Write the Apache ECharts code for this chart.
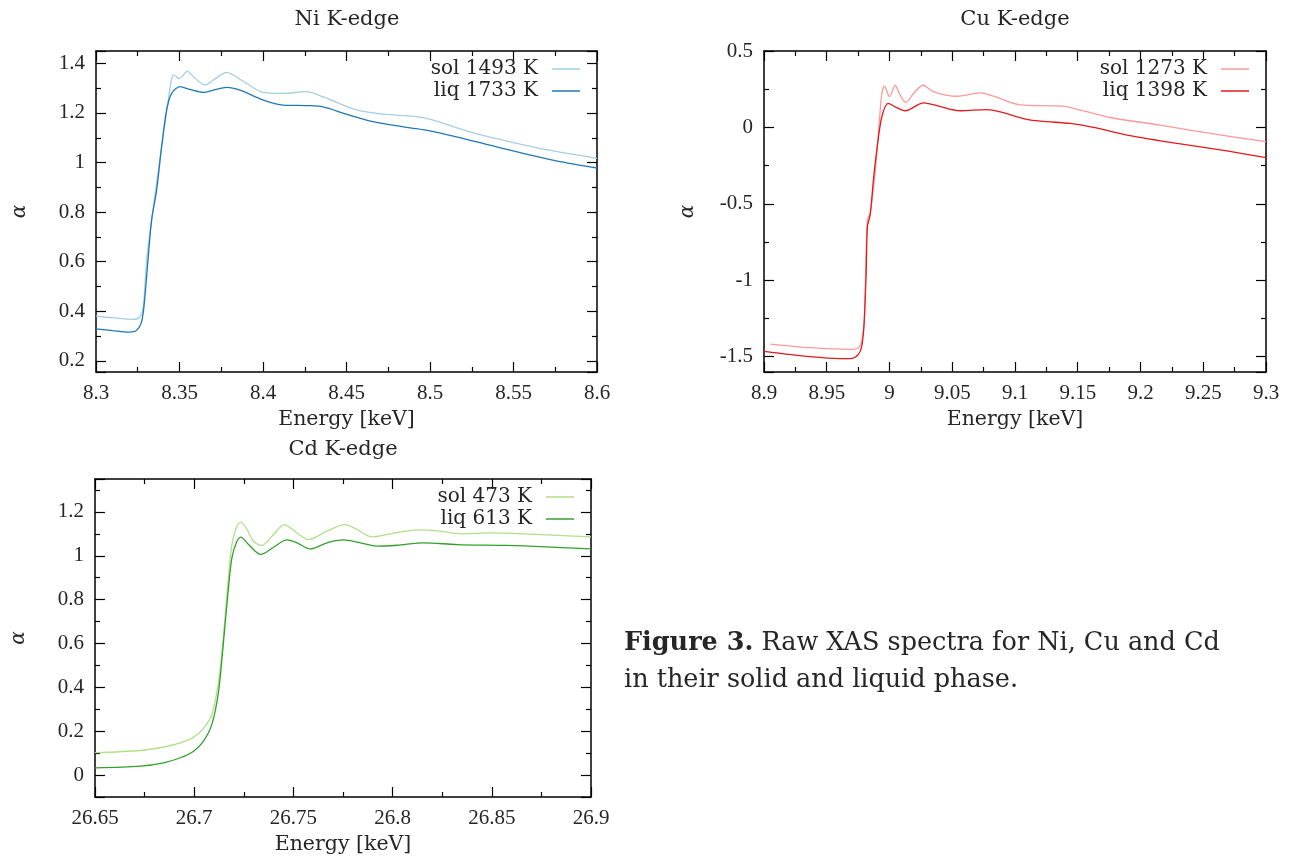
<!DOCTYPE html>
<html>
<head>
<meta charset="utf-8">
<script src="https://cdn.jsdelivr.net/npm/echarts@6/dist/echarts.min.js"></script>
<style>html,body{margin:0;padding:0;background:#fff}#c{width:1300px;height:860px}</style>
</head>
<body>
<div id="c"></div>
<script>
// ---- Data (energy in keV, absorption alpha) ----
const niSolE = [8.300,8.311,8.3223,8.3263,8.3283,8.3303,8.3333,8.3393,8.3433,8.3453,8.3467,8.3499,8.3519,8.3547,8.3583,8.3653,8.3703,8.3782,8.3822,8.3902,8.4002,8.4121,8.4261,8.4360,8.4560,8.4719,8.4919,8.5019,8.5218,8.5418,8.5657,8.600];
const niSolA = [0.380,0.373,0.367,0.378,0.418,0.606,0.768,1.064,1.252,1.339,1.353,1.339,1.349,1.369,1.346,1.313,1.333,1.364,1.353,1.319,1.283,1.279,1.286,1.265,1.212,1.195,1.185,1.171,1.128,1.093,1.057,1.017];
const niLiqE = [8.300,8.310,8.320,8.324,8.327,8.3287,8.3313,8.3333,8.3363,8.3393,8.3423,8.3453,8.3503,8.3563,8.3643,8.3703,8.3782,8.3862,8.4002,8.4121,8.4261,8.4360,8.4500,8.4660,8.4859,8.4999,8.5158,8.5358,8.5557,8.5757,8.600];
const niLiqA = [0.329,0.322,0.316,0.321,0.351,0.418,0.620,0.768,0.889,1.064,1.212,1.279,1.306,1.295,1.283,1.292,1.303,1.292,1.252,1.232,1.230,1.225,1.195,1.165,1.142,1.128,1.104,1.070,1.037,1.007,0.978];

const cuSolE = [8.905,8.9367,8.9686,8.9752,8.9779,8.9798,8.9824,8.9846,8.9885,8.9920,8.9939,8.9960,9.0000,9.0045,9.0085,9.0130,9.0191,9.0266,9.0351,9.0537,9.0723,9.0829,9.1042,9.1307,9.1414,9.1759,9.2158,9.2557,9.300];
const cuSolA = [-1.417,-1.441,-1.452,-1.441,-1.398,-1.278,-0.604,-0.561,-0.300,0.048,0.222,0.270,0.200,0.276,0.211,0.163,0.222,0.276,0.233,0.204,0.226,0.204,0.148,0.141,0.135,0.065,0.015,-0.039,-0.093];
const cuLiqE = [8.900,8.9367,8.9606,8.9699,8.9752,8.9779,8.9798,8.9814,8.9824,8.9846,8.9872,8.9899,8.9939,8.9991,9.0045,9.0125,9.0271,9.0377,9.0564,9.0776,9.0882,9.1095,9.1228,9.1440,9.1626,9.1892,9.2291,9.2689,9.300];
const cuLiqA = [-1.465,-1.500,-1.513,-1.511,-1.485,-1.430,-1.278,-0.952,-0.648,-0.572,-0.343,-0.148,0.070,0.157,0.135,0.109,0.161,0.143,0.109,0.117,0.102,0.052,0.039,0.026,0.000,-0.050,-0.104,-0.154,-0.197];

const cdSolE = [26.65,26.6728,26.6846,26.6930,26.6997,26.7047,26.7089,26.7123,26.7148,26.7168,26.7190,26.7215,26.7235,26.7266,26.7299,26.7341,26.7392,26.7454,26.7518,26.7577,26.7669,26.7761,26.7820,26.7896,26.7988,26.8123,26.8240,26.8341,26.8492,26.8660,26.90];
const cdSolA = [0.102,0.112,0.128,0.147,0.173,0.213,0.276,0.428,0.641,0.854,1.051,1.135,1.153,1.120,1.066,1.047,1.089,1.142,1.104,1.074,1.112,1.142,1.120,1.086,1.100,1.118,1.112,1.100,1.104,1.100,1.086];
const cdLiqE = [26.65,26.6728,26.6846,26.6930,26.6997,26.7047,26.7089,26.7123,26.7148,26.7168,26.7190,26.7215,26.7235,26.7274,26.7336,26.7400,26.7467,26.7518,26.7585,26.7669,26.7753,26.7837,26.7921,26.8022,26.8156,26.8324,26.8576,26.8744,26.90];
const cdLiqA = [0.033,0.041,0.056,0.079,0.109,0.155,0.231,0.383,0.611,0.808,0.990,1.066,1.085,1.051,1.006,1.039,1.072,1.059,1.031,1.059,1.072,1.059,1.044,1.048,1.059,1.051,1.047,1.042,1.031];

const panelTitles = ['Ni K-edge', 'Cu K-edge', 'Cd K-edge'];
const seriesNames = [['sol 1493 K','liq 1733 K'],['sol 1273 K','liq 1398 K'],['sol 473 K','liq 613 K']];
const xName = 'Energy [keV]';
const yName = 'α';
const captionBold = 'Figure 3.';
const captionLine1 = ' Raw XAS spectra for Ni, Cu and Cd';
const captionLine2 = 'in their solid and liquid phase.';

// ---- Layout / style ----
const NUMFONT = '"Liberation Serif", serif';
const WFONT = '"DejaVu Serif", serif';
const TXT = '#262626';
const grids = [
  {left: 96, top: 51, width: 501, height: 321},
  {left: 764, top: 51, width: 502, height: 321},
  {left: 95, top: 479, width: 496, height: 318}
];
const xr = [[8.3, 8.6], [8.9, 9.3], [26.65, 26.9]];
const yr = [[0.155, 1.45, 0.2], [-1.6, 0.5, 0.5], [-0.1, 1.35, 0.2]];
const colors = [['#a6cee3','#1f78b4'],['#fb9a99','#e31a1c'],['#b2df8a','#33a02c']];
const dataSets = [[[niSolE,niSolA],[niLiqE,niLiqA]],[[cuSolE,cuSolA],[cuLiqE,cuLiqA]],[[cdSolE,cdSolA],[cdLiqE,cdLiqA]]];
const zip = (e, a) => e.map((v, i) => [v, a[i]]);

const lineStyleAx = {color: '#000', width: 1.5};
const xAxes = [], yAxes = [], series = [], legends = [], gridOpts = [];
grids.forEach((g, i) => {
  gridOpts.push(Object.assign({show: false, outerBoundsMode: 'none', containLabel: false}, g));
  const xBase = {gridIndex: i, type: 'value', min: xr[i][0], max: xr[i][1], interval: 0.05,
    axisLine: {show: true, onZero: false, lineStyle: lineStyleAx},
    axisTick: {show: true, inside: true, length: 10, lineStyle: {color: '#000', width: 1.2}},
    minorTick: {show: true, splitNumber: 2, length: 5, lineStyle: {color: '#000', width: 1.2}},
    splitLine: {show: false}, minorSplitLine: {show: false}};
  xAxes.push(Object.assign({}, xBase, {position: 'bottom',
    axisLabel: {show: true, margin: 11, fontFamily: NUMFONT, fontSize: 21, color: TXT},
    name: xName, nameLocation: 'middle', nameGap: 37,
    nameTextStyle: {fontFamily: WFONT, fontSize: 20.5, color: TXT}}));
  xAxes.push(Object.assign({}, xBase, {position: 'top', axisLabel: {show: false}}));
  const yBase = {gridIndex: i, type: 'value', min: yr[i][0], max: yr[i][1],
    minInterval: yr[i][2], maxInterval: yr[i][2], splitNumber: 6,
    axisLine: {show: true, onZero: false, lineStyle: lineStyleAx},
    axisTick: {show: true, inside: true, length: 10, lineStyle: {color: '#000', width: 1.2}},
    minorTick: {show: true, splitNumber: 2, length: 5, lineStyle: {color: '#000', width: 1.2}},
    splitLine: {show: false}, minorSplitLine: {show: false}};
  yAxes.push(Object.assign({}, yBase, {position: 'left',
    axisLabel: {show: true, margin: 11, fontFamily: NUMFONT, fontSize: 21, color: TXT,
      showMinLabel: false, showMaxLabel: i === 1},
    name: yName, nameLocation: 'middle', nameGap: 66,
    nameTextStyle: {fontFamily: WFONT, fontSize: 20, color: TXT, fontStyle: 'italic'}}));
  yAxes.push(Object.assign({}, yBase, {position: 'right', axisLabel: {show: false}}));
  dataSets[i].forEach((d, k) => {
    series.push({type: 'line', name: seriesNames[i][k], xAxisIndex: 2 * i, yAxisIndex: 2 * i,
      data: zip(d[0], d[1]), showSymbol: false, symbol: 'none', smooth: 0.3,
      lineStyle: {color: colors[i][k], width: 1.3}, itemStyle: {color: colors[i][k]},
      animation: false, z: 2 + k});
  });
  const g2 = grids[i];
  legends.push({data: seriesNames[i], orient: 'vertical', align: 'right', icon: 'rect',
    itemWidth: 28, itemHeight: 1.5, itemGap: 0, selectedMode: false,
    right: 1300 - (g2.left + g2.width) + 12, top: g2.top + 2,
    textStyle: {fontFamily: WFONT, fontSize: 20, color: TXT, padding: [0, 9, 0, 0], lineHeight: 22}});
});

const titlePos = [[347, 20], [1015, 20], [343, 450]];
const graphic = titlePos.map((p, i) => ({type: 'text', x: p[0], y: p[1],
  style: {text: panelTitles[i], font: '21px ' + WFONT, fill: TXT, textAlign: 'center', textVerticalAlign: 'middle'}}));
graphic.push({type: 'text', x: 624, y: 643, style: {
  text: '{b|' + captionBold + '}' + captionLine1,
  font: '25.5px ' + WFONT, fill: TXT, textVerticalAlign: 'middle',
  rich: {b: {fontWeight: 'bold', fontFamily: WFONT, fontSize: 25.5, fill: TXT}}}});
graphic.push({type: 'text', x: 624, y: 680, style: {text: captionLine2,
  font: '25.5px ' + WFONT, fill: TXT, textVerticalAlign: 'middle'}});

const chart = echarts.init(document.getElementById('c'), null, {renderer: 'canvas'});
chart.setOption({animation: false, backgroundColor: '#fff', grid: gridOpts,
  xAxis: xAxes, yAxis: yAxes, series: series, legend: legends, graphic: graphic});
</script>
</body>
</html>
